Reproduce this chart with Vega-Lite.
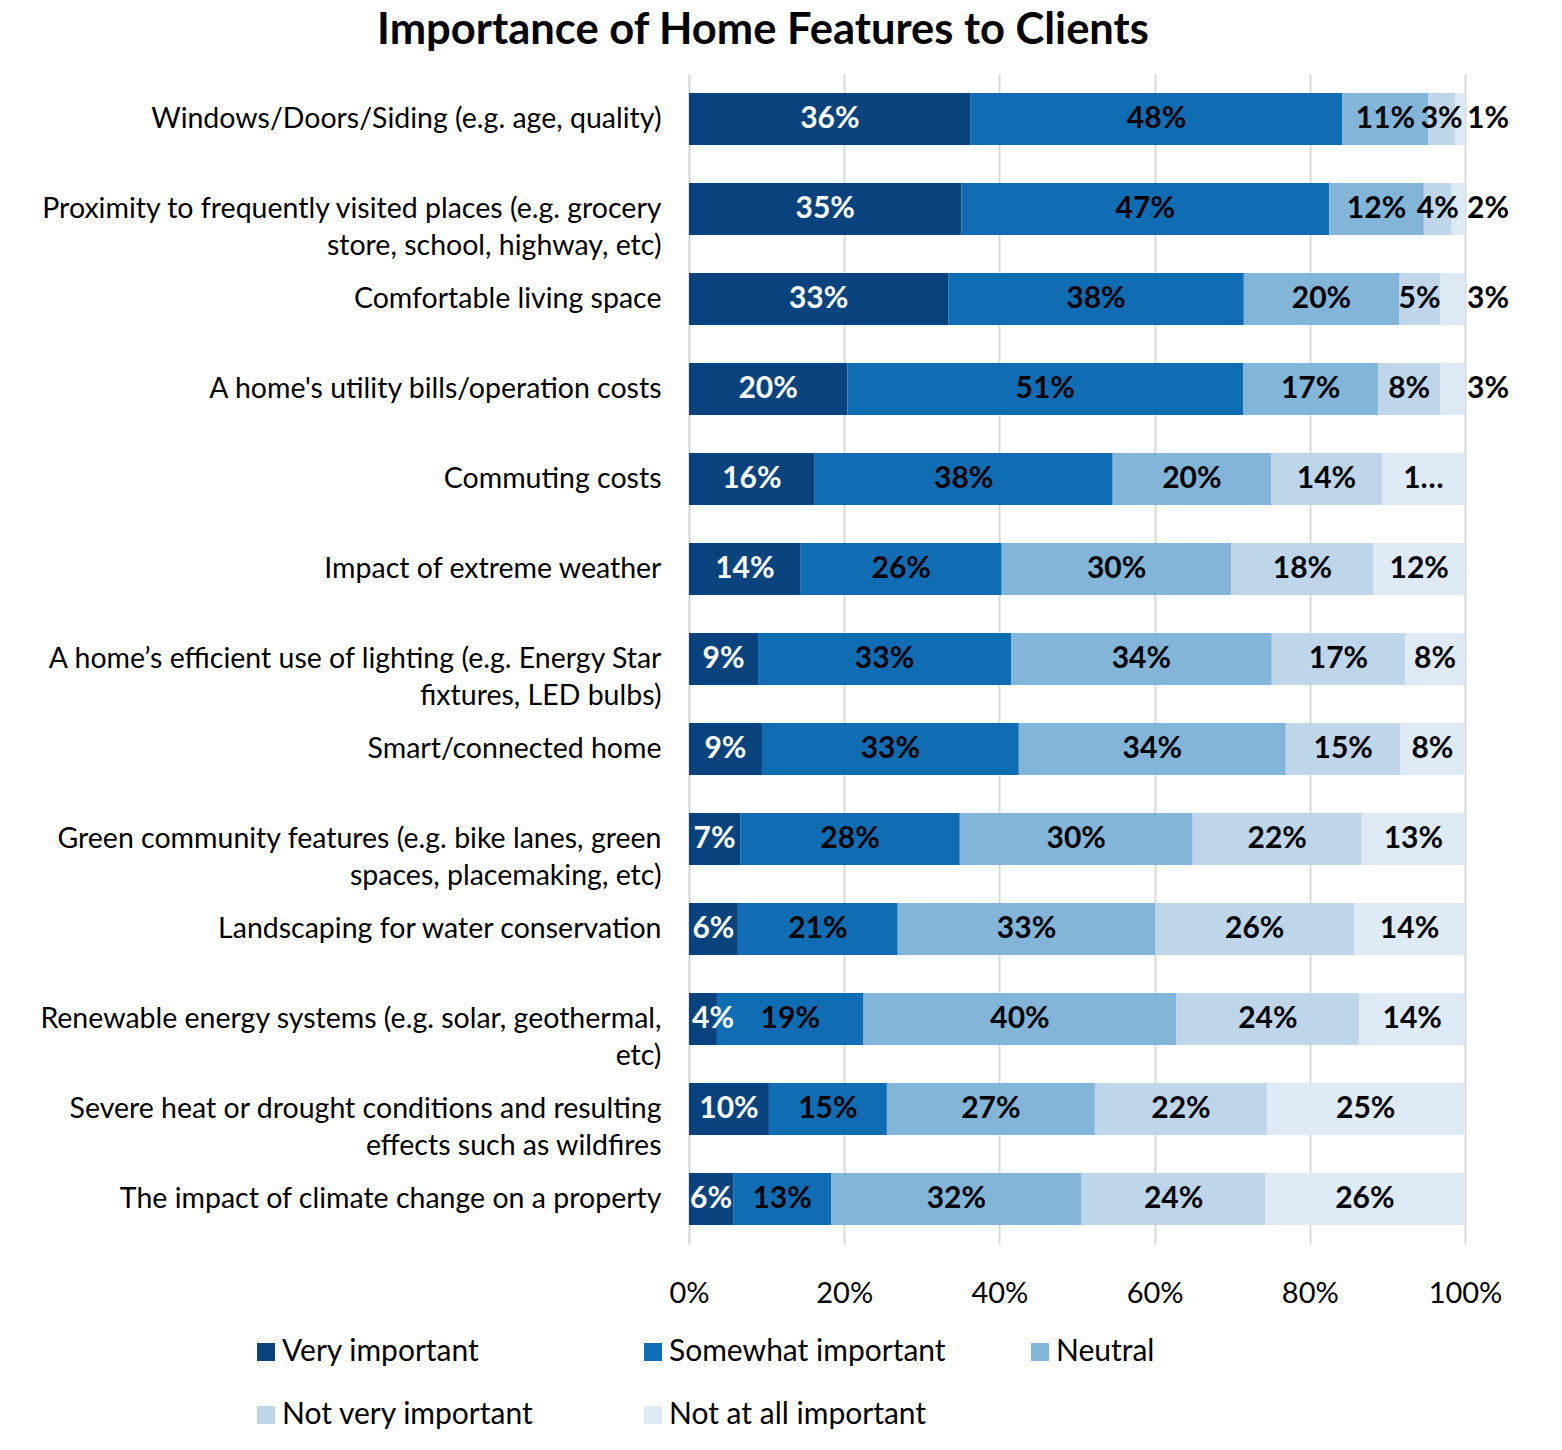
{
  "$schema": "https://vega.github.io/schema/vega-lite/v6.json",
  "autosize": {"type": "none"},
  "width": 776,
  "height": 1170,
  "padding": {"left": 689, "top": 74, "right": 97, "bottom": 206},
  "background": "white",
  "title": {
    "text": "Importance of Home Features to Clients",
    "font": "Lato",
    "fontSize": 43.5,
    "fontWeight": "bold",
    "color": "#000000",
    "anchor": "middle",
    "frame": "group",
    "dx": -314,
    "offset": 21
  },
  "data": {
    "values": [
      {"f": "Windows/Doors/Siding (e.g. age, quality)", "r": "Very important", "k": 1, "v": 36.3, "lab": "36%"},
      {"f": "Windows/Doors/Siding (e.g. age, quality)", "r": "Somewhat important", "k": 2, "v": 47.9, "lab": "48%"},
      {"f": "Windows/Doors/Siding (e.g. age, quality)", "r": "Neutral", "k": 3, "v": 11.1, "lab": "11%"},
      {"f": "Windows/Doors/Siding (e.g. age, quality)", "r": "Not very important", "k": 4, "v": 3.4, "lab": "3%"},
      {"f": "Windows/Doors/Siding (e.g. age, quality)", "r": "Not at all important", "k": 5, "v": 1.3, "lab": "1%"},
      {"f": "Proximity to frequently visited places (e.g. grocery|store, school, highway, etc)", "r": "Very important", "k": 1, "v": 35.1, "lab": "35%"},
      {"f": "Proximity to frequently visited places (e.g. grocery|store, school, highway, etc)", "r": "Somewhat important", "k": 2, "v": 47.4, "lab": "47%"},
      {"f": "Proximity to frequently visited places (e.g. grocery|store, school, highway, etc)", "r": "Neutral", "k": 3, "v": 12.2, "lab": "12%"},
      {"f": "Proximity to frequently visited places (e.g. grocery|store, school, highway, etc)", "r": "Not very important", "k": 4, "v": 3.6, "lab": "4%"},
      {"f": "Proximity to frequently visited places (e.g. grocery|store, school, highway, etc)", "r": "Not at all important", "k": 5, "v": 1.7, "lab": "2%"},
      {"f": "Comfortable living space", "r": "Very important", "k": 1, "v": 33.4, "lab": "33%"},
      {"f": "Comfortable living space", "r": "Somewhat important", "k": 2, "v": 38.1, "lab": "38%"},
      {"f": "Comfortable living space", "r": "Neutral", "k": 3, "v": 20.0, "lab": "20%"},
      {"f": "Comfortable living space", "r": "Not very important", "k": 4, "v": 5.3, "lab": "5%"},
      {"f": "Comfortable living space", "r": "Not at all important", "k": 5, "v": 3.2, "lab": "3%"},
      {"f": "A home's utility bills/operation costs", "r": "Very important", "k": 1, "v": 20.4, "lab": "20%"},
      {"f": "A home's utility bills/operation costs", "r": "Somewhat important", "k": 2, "v": 51.0, "lab": "51%"},
      {"f": "A home's utility bills/operation costs", "r": "Neutral", "k": 3, "v": 17.4, "lab": "17%"},
      {"f": "A home's utility bills/operation costs", "r": "Not very important", "k": 4, "v": 8.0, "lab": "8%"},
      {"f": "A home's utility bills/operation costs", "r": "Not at all important", "k": 5, "v": 3.2, "lab": "3%"},
      {"f": "Commuting costs", "r": "Very important", "k": 1, "v": 16.2, "lab": "16%"},
      {"f": "Commuting costs", "r": "Somewhat important", "k": 2, "v": 38.4, "lab": "38%"},
      {"f": "Commuting costs", "r": "Neutral", "k": 3, "v": 20.4, "lab": "20%"},
      {"f": "Commuting costs", "r": "Not very important", "k": 4, "v": 14.3, "lab": "14%"},
      {"f": "Commuting costs", "r": "Not at all important", "k": 5, "v": 10.7, "lab": "1…"},
      {"f": "Impact of extreme weather", "r": "Very important", "k": 1, "v": 14.4, "lab": "14%"},
      {"f": "Impact of extreme weather", "r": "Somewhat important", "k": 2, "v": 25.9, "lab": "26%"},
      {"f": "Impact of extreme weather", "r": "Neutral", "k": 3, "v": 29.6, "lab": "30%"},
      {"f": "Impact of extreme weather", "r": "Not very important", "k": 4, "v": 18.3, "lab": "18%"},
      {"f": "Impact of extreme weather", "r": "Not at all important", "k": 5, "v": 11.8, "lab": "12%"},
      {"f": "A home’s efficient use of lighting (e.g. Energy Star|fixtures, LED bulbs)", "r": "Very important", "k": 1, "v": 8.9, "lab": "9%"},
      {"f": "A home’s efficient use of lighting (e.g. Energy Star|fixtures, LED bulbs)", "r": "Somewhat important", "k": 2, "v": 32.6, "lab": "33%"},
      {"f": "A home’s efficient use of lighting (e.g. Energy Star|fixtures, LED bulbs)", "r": "Neutral", "k": 3, "v": 33.6, "lab": "34%"},
      {"f": "A home’s efficient use of lighting (e.g. Energy Star|fixtures, LED bulbs)", "r": "Not very important", "k": 4, "v": 17.2, "lab": "17%"},
      {"f": "A home’s efficient use of lighting (e.g. Energy Star|fixtures, LED bulbs)", "r": "Not at all important", "k": 5, "v": 7.7, "lab": "8%"},
      {"f": "Smart/connected home", "r": "Very important", "k": 1, "v": 9.4, "lab": "9%"},
      {"f": "Smart/connected home", "r": "Somewhat important", "k": 2, "v": 33.1, "lab": "33%"},
      {"f": "Smart/connected home", "r": "Neutral", "k": 3, "v": 34.4, "lab": "34%"},
      {"f": "Smart/connected home", "r": "Not very important", "k": 4, "v": 14.8, "lab": "15%"},
      {"f": "Smart/connected home", "r": "Not at all important", "k": 5, "v": 8.2, "lab": "8%"},
      {"f": "Green community features (e.g. bike lanes, green|spaces, placemaking, etc)", "r": "Very important", "k": 1, "v": 6.6, "lab": "7%"},
      {"f": "Green community features (e.g. bike lanes, green|spaces, placemaking, etc)", "r": "Somewhat important", "k": 2, "v": 28.3, "lab": "28%"},
      {"f": "Green community features (e.g. bike lanes, green|spaces, placemaking, etc)", "r": "Neutral", "k": 3, "v": 30.0, "lab": "30%"},
      {"f": "Green community features (e.g. bike lanes, green|spaces, placemaking, etc)", "r": "Not very important", "k": 4, "v": 21.8, "lab": "22%"},
      {"f": "Green community features (e.g. bike lanes, green|spaces, placemaking, etc)", "r": "Not at all important", "k": 5, "v": 13.3, "lab": "13%"},
      {"f": "Landscaping for water conservation", "r": "Very important", "k": 1, "v": 6.3, "lab": "6%"},
      {"f": "Landscaping for water conservation", "r": "Somewhat important", "k": 2, "v": 20.6, "lab": "21%"},
      {"f": "Landscaping for water conservation", "r": "Neutral", "k": 3, "v": 33.2, "lab": "33%"},
      {"f": "Landscaping for water conservation", "r": "Not very important", "k": 4, "v": 25.6, "lab": "26%"},
      {"f": "Landscaping for water conservation", "r": "Not at all important", "k": 5, "v": 14.3, "lab": "14%"},
      {"f": "Renewable energy systems (e.g. solar, geothermal,|etc)", "r": "Very important", "k": 1, "v": 3.6, "lab": "4%"},
      {"f": "Renewable energy systems (e.g. solar, geothermal,|etc)", "r": "Somewhat important", "k": 2, "v": 18.9, "lab": "19%"},
      {"f": "Renewable energy systems (e.g. solar, geothermal,|etc)", "r": "Neutral", "k": 3, "v": 40.3, "lab": "40%"},
      {"f": "Renewable energy systems (e.g. solar, geothermal,|etc)", "r": "Not very important", "k": 4, "v": 23.6, "lab": "24%"},
      {"f": "Renewable energy systems (e.g. solar, geothermal,|etc)", "r": "Not at all important", "k": 5, "v": 13.6, "lab": "14%"},
      {"f": "Severe heat or drought conditions and resulting|effects such as wildfires", "r": "Very important", "k": 1, "v": 10.3, "lab": "10%"},
      {"f": "Severe heat or drought conditions and resulting|effects such as wildfires", "r": "Somewhat important", "k": 2, "v": 15.2, "lab": "15%"},
      {"f": "Severe heat or drought conditions and resulting|effects such as wildfires", "r": "Neutral", "k": 3, "v": 26.8, "lab": "27%"},
      {"f": "Severe heat or drought conditions and resulting|effects such as wildfires", "r": "Not very important", "k": 4, "v": 22.2, "lab": "22%"},
      {"f": "Severe heat or drought conditions and resulting|effects such as wildfires", "r": "Not at all important", "k": 5, "v": 25.4, "lab": "25%"},
      {"f": "The impact of climate change on a property", "r": "Very important", "k": 1, "v": 5.7, "lab": "6%"},
      {"f": "The impact of climate change on a property", "r": "Somewhat important", "k": 2, "v": 12.6, "lab": "13%"},
      {"f": "The impact of climate change on a property", "r": "Neutral", "k": 3, "v": 32.3, "lab": "32%"},
      {"f": "The impact of climate change on a property", "r": "Not very important", "k": 4, "v": 23.7, "lab": "24%"},
      {"f": "The impact of climate change on a property", "r": "Not at all important", "k": 5, "v": 25.6, "lab": "26%"}
    ]
  },
  "transform": [
    {"stack": "v", "groupby": ["f"], "sort": [{"field": "k", "order": "ascending"}], "as": ["x0", "x1"]},
    {"calculate": "(datum.x0 + datum.x1) / 2", "as": "xm"}
  ],
  "encoding": {
    "y": {
      "field": "f",
      "type": "nominal",
      "sort": null,
      "title": null,
      "scale": {"paddingInner": 0.42, "paddingOuter": 0.21},
      "axis": {
        "labelExpr": "split(datum.label, '|')",
        "labelFont": "Lato",
        "labelFontSize": 28.5,
        "labelColor": "#000000",
        "labelLimit": 800,
        "labelPadding": 28,
        "labelLineHeight": 37,
        "ticks": false,
        "domain": true,
        "domainColor": "#d9d9d9",
        "domainWidth": 2
      }
    }
  },
  "layer": [
    {
      "mark": {"type": "bar"},
      "encoding": {
        "x": {
          "field": "x0",
          "type": "quantitative",
          "title": null,
          "scale": {"domain": [0, 100], "nice": false},
          "axis": {
            "values": [0, 20, 40, 60, 80, 100],
            "labelExpr": "datum.value + '%'",
            "labelFont": "Lato",
            "labelFontSize": 29,
            "labelColor": "#000000",
            "labelPadding": 35,
            "labelFlush": false,
            "ticks": false,
            "domain": false,
            "grid": true,
            "gridColor": "#d9d9d9",
            "gridWidth": 2
          }
        },
        "x2": {"field": "x1"},
        "color": {
          "field": "r",
          "type": "nominal",
          "title": null,
          "scale": {
            "domain": ["Very important", "Somewhat important", "Neutral", "Not very important", "Not at all important"],
            "range": ["#08437e", "#106db4", "#82b5d8", "#bfd5ea", "#deebf6"]
          },
          "legend": {
            "orient": "none",
            "legendX": -438,
            "legendY": 1263,
            "direction": "horizontal",
            "columns": 3,
            "gridAlign": "all",
            "columnPadding": 79,
            "rowPadding": 33,
            "symbolType": "square",
            "symbolSize": 324,
            "symbolStrokeWidth": 0,
            "labelFont": "Lato",
            "labelFontSize": 30,
            "labelColor": "#000000",
            "labelOffset": 1,
            "labelLimit": 400
          }
        },
        "order": {"field": "k"}
      }
    },
    {
      "transform": [{"filter": "!((datum.k === 5 && datum.v < 4) || (datum.k === 1 && datum.v < 5))"}],
      "mark": {"type": "text", "font": "Lato", "fontSize": 30, "fontWeight": "bold", "baseline": "middle", "align": "center"},
      "encoding": {
        "x": {"field": "xm", "type": "quantitative"},
        "text": {"field": "lab"},
        "color": {
          "condition": {"test": "datum.r === 'Very important'", "value": "#ffffff"},
          "value": "#000000"
        }
      }
    },
    {
      "transform": [{"filter": "datum.k === 5 && datum.v < 4"}],
      "mark": {"type": "text", "font": "Lato", "fontSize": 30, "fontWeight": "bold", "baseline": "middle", "align": "left", "dx": 2, "color": "#000000"},
      "encoding": {
        "x": {"field": "x1", "type": "quantitative"},
        "text": {"field": "lab"}
      }
    },
    {
      "transform": [{"filter": "datum.k === 1 && datum.v < 5"}],
      "mark": {"type": "text", "font": "Lato", "fontSize": 30, "fontWeight": "bold", "baseline": "middle", "align": "left", "dx": 3, "color": "#ffffff"},
      "encoding": {
        "x": {"field": "x0", "type": "quantitative"},
        "text": {"field": "lab"}
      }
    }
  ],
  "config": {
    "view": {"stroke": null},
    "font": "Lato"
  }
}
